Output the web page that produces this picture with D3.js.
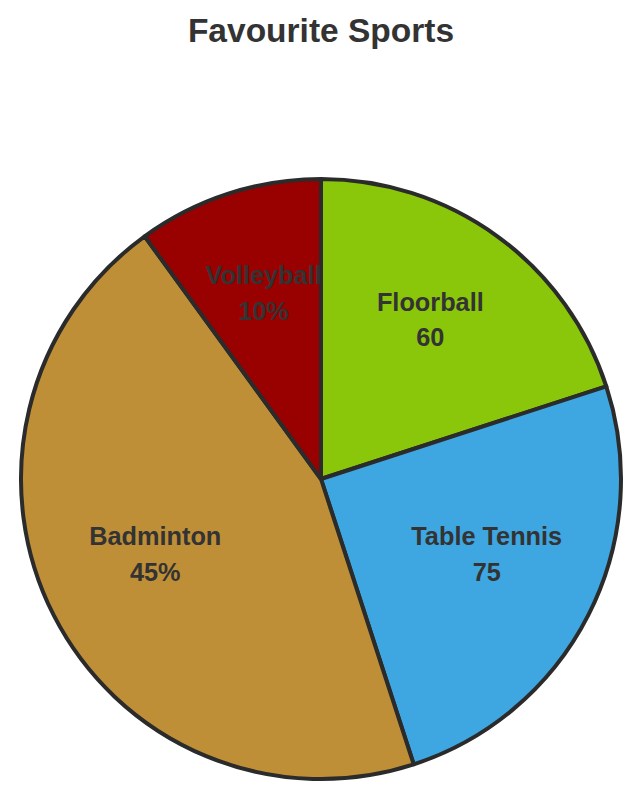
<!DOCTYPE html>
<html>
<head>
<meta charset="utf-8">
<script src="https://cdn.jsdelivr.net/npm/d3@7"></script>
<style>
  html, body { margin: 0; padding: 0; background: #fff; }
  svg { display: block; font-family: "Liberation Sans", Arial, Helvetica, sans-serif; }
</style>
</head>
<body>
<svg id="chart" width="642" height="800"></svg>
<script>
const title = "Favourite Sports";
const categories = ["Floorball", "Table Tennis", "Badminton", "Volleyball"];
const values = [60, 75, 135, 30];
const labelModes = ["value", "value", "percent", "percent"];
const colors = ["#8AC70A", "#3EA6E0", "#BF8F37", "#990000"];

const W = 642, H = 800;
const cx = 321, cy = 479, R = 300;

const svg = d3.select("#chart");

svg.append("text")
  .attr("x", 321).attr("y", 42)
  .attr("text-anchor", "middle")
  .attr("font-size", 33.5).attr("font-weight", "bold")
  .attr("fill", "#333")
  .text(title);

const data = categories.map((c, i) => ({ name: c, value: values[i], mode: labelModes[i], color: colors[i] }));
const total = d3.sum(values);

const pie = d3.pie().value(d => d.value).sort(null);
const arc = d3.arc().innerRadius(0).outerRadius(R);
const labelArc = d3.arc().innerRadius(186).outerRadius(186);

const g = svg.append("g").attr("transform", `translate(${cx},${cy})`);
const arcs = pie(data);

g.selectAll("path.slice").data(arcs).enter().append("path")
  .attr("class", "slice")
  .attr("d", arc)
  .attr("fill", d => d.data.color)
  .attr("stroke", "#2b2b2b")
  .attr("stroke-width", 4)
  .attr("stroke-linejoin", "round");

const fmtPct = d3.format(".0%");
const labels = g.selectAll("text.lbl").data(arcs).enter().append("text")
  .attr("class", "lbl")
  .attr("transform", d => `translate(${labelArc.centroid(d)})`)
  .attr("text-anchor", "middle")
  .attr("font-size", 25.3).attr("font-weight", "bold")
  .attr("fill", "#333");

labels.append("tspan").attr("x", 0).attr("y", -18).text(d => d.data.name);
labels.append("tspan").attr("x", 0).attr("y", 17.5)
  .text(d => d.data.mode === "percent" ? fmtPct(d.data.value / total) : String(d.data.value));
</script>
</body>
</html>
